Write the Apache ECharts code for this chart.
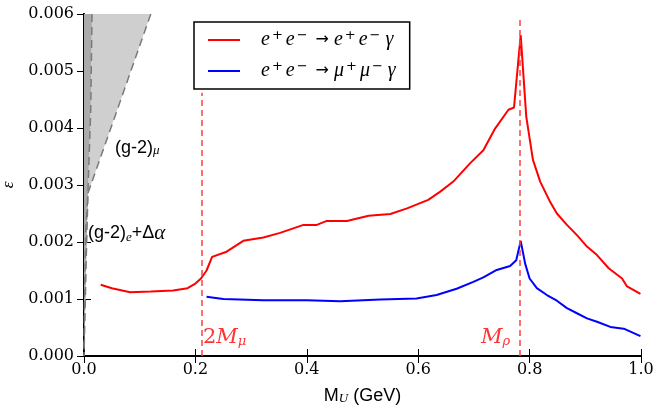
<!DOCTYPE html>
<html>
<head>
<meta charset="utf-8">
<script src="https://cdn.jsdelivr.net/npm/echarts@6/dist/echarts.min.js"></script>
<style>
    html, body { margin: 0; padding: 0; background: #fff; }
    #chart { width: 657px; height: 409px; }
</style>
</head>
<body>
<div id="chart"></div>
<script>
// e+e- -> e+e- gamma  [M_U, epsilon]
var eeGamma = [
    [0.03, 0.00125], [0.05, 0.00119], [0.083, 0.00112], [0.12, 0.00113], [0.16, 0.00115],
    [0.186, 0.00119], [0.2, 0.00127], [0.21, 0.00136], [0.22, 0.0015], [0.23, 0.00174],
    [0.256, 0.00183], [0.286, 0.00202], [0.322, 0.00208], [0.352, 0.00216], [0.394, 0.0023],
    [0.418, 0.0023], [0.436, 0.00237], [0.472, 0.00237], [0.511, 0.00246], [0.55, 0.00249],
    [0.58, 0.00259], [0.618, 0.00274], [0.639, 0.00288], [0.663, 0.00306], [0.693, 0.00338],
    [0.717, 0.00361], [0.738, 0.00399], [0.762, 0.00432], [0.772, 0.00436], [0.784, 0.00563],
    [0.794, 0.0042], [0.806, 0.00344], [0.819, 0.00306], [0.837, 0.0027], [0.849, 0.0025],
    [0.867, 0.0023], [0.885, 0.00212], [0.903, 0.00192], [0.921, 0.00177], [0.942, 0.00154],
    [0.966, 0.00136], [0.975, 0.00122], [0.999, 0.00109]
];
// e+e- -> mu+mu- gamma
var mumuGamma = [
    [0.22, 0.00104], [0.25, 0.001], [0.322, 0.00098], [0.4, 0.00098], [0.46, 0.00096],
    [0.532, 0.00099], [0.597, 0.00101], [0.633, 0.00107], [0.669, 0.00118], [0.699, 0.0013],
    [0.717, 0.00138], [0.741, 0.00151], [0.765, 0.00158], [0.776, 0.00168], [0.784, 0.00202],
    [0.792, 0.00162], [0.8, 0.00136], [0.813, 0.00119], [0.831, 0.00107], [0.849, 0.00097],
    [0.867, 0.00084], [0.885, 0.00075], [0.903, 0.00066], [0.921, 0.0006], [0.945, 0.00051],
    [0.969, 0.00048], [0.999, 0.00035]
];
// excluded bands (dashed boundaries)
var g2eEdge = [[0.0144, 0.006], [0.012, 0.0043], [0.0075, 0.003], [0.004, 0.0017], [0.002, 0.0008], [0, 0]];
var g2muEdge = [[0.12, 0.006], [0.0468, 0.00396], [0.0072, 0.00286], [0.003, 0.0022], [0.001, 0.001], [0, 0]];
var axisCorner = [[0, 0], [0, 0.006]];

// threshold lines [M, top]
var muThreshold = [0.211, 0.00462];
var rhoMass = [0.782, 0.0059];

var serif = '"DejaVu Serif", serif';
var sans = '"Liberation Sans", Arial, sans-serif';
var mathFont = '"Liberation Serif", "DejaVu Serif", serif';
var labelRed = '#f33';

var chart = echarts.init(document.getElementById('chart'));

function polygonSeries(pts, color) {
    return {
        type: 'custom',
        silent: true,
        z: 1,
        data: [0],
        renderItem: function (params, api) {
            return {
                type: 'polygon',
                shape: { points: pts.map(function (p) { return api.coord(p); }) },
                style: { fill: color }
            };
        }
    };
}

function markLineFor(m) {
    return {
        silent: true,
        symbol: 'none',
        label: { show: false },
        emphasis: { disabled: true },
        lineStyle: { color: '#ff4040', width: 1.5, type: [6, 4], opacity: 1 },
        data: [[{ coord: [m[0], 0] }, { coord: [m[0], m[1]] }]]
    };
}

var rich = {
    i: { fontFamily: mathFont, fontStyle: 'italic', fontSize: 20, color: '#000' },
    g: { fontFamily: mathFont, fontStyle: 'italic', fontSize: 20, color: '#000', padding: [0, 0, 0, 2] },
    a: { fontFamily: '"DejaVu Sans", sans-serif', fontSize: 16, color: '#000', padding: [0, 5, 0, 5] },
    s: { fontFamily: '"DejaVu Sans", sans-serif', fontSize: 13, color: '#000', verticalAlign: 'top', padding: [0, 3, 0, 2] }
};

var lightBand = g2eEdge.concat(g2muEdge.slice().reverse());
var darkBand = axisCorner.concat(g2eEdge);

var axisCommon = {
    axisLine: { lineStyle: { color: '#000', width: 2 } },
    axisTick: { inside: true, length: 7, lineStyle: { color: '#000', width: 1 } },
    splitLine: { show: false }
};

var option = {
    animation: false,
    grid: { left: 84, right: 16, top: 14, bottom: 53, containLabel: false, outerBoundsMode: 'none' },
    legend: {
        orient: 'vertical',
        left: 194,
        top: 22,
        padding: [7, 14, 7, 14],
        itemGap: 9,
        itemWidth: 32,
        itemHeight: 2,
        icon: 'rect',
        backgroundColor: '#fff',
        borderColor: '#000',
        borderWidth: 1.5,
        borderRadius: 0,
        data: ['ee', 'mumu'],
        formatter: function (name) {
            if (name === 'ee') return '{i|e}{s|+}{i|e}{s|\u2212}{a|\u2192}{i|e}{s|+}{i|e}{s|\u2212}{g|\u03b3}';
            return '{i|e}{s|+}{i|e}{s|\u2212}{a|\u2192}{i|\u03bc}{s|+}{i|\u03bc}{s|\u2212}{g|\u03b3}';
        },
        textStyle: { rich: rich, padding: [0, 0, 0, 16], lineHeight: 22 }
    },
    xAxis: [Object.assign({
        type: 'value', min: 0, max: 1, interval: 0.2,
        name: '{a|M}{b|U}{a| (GeV)}',
        nameLocation: 'middle', nameGap: 31,
        nameTextStyle: {
            rich: {
                a: { fontFamily: sans, fontSize: 18, color: '#000' },
                b: { fontFamily: mathFont, fontStyle: 'italic', fontSize: 13, color: '#000', verticalAlign: 'bottom' }
            }
        },
        axisLabel: { fontFamily: serif, fontSize: 16, color: '#000', margin: 6,
            formatter: function (v) { return v.toFixed(1); } }
    }, axisCommon), Object.assign({
        type: 'value', min: 0, max: 1, interval: 0.2, position: 'top',
        axisLabel: { show: false }
    }, axisCommon)],
    yAxis: [Object.assign({
        type: 'value', min: 0, max: 0.006, interval: 0.001,
        name: '\u03b5', nameLocation: 'middle', nameGap: 66,
        nameTextStyle: { fontFamily: mathFont, fontStyle: 'italic', fontSize: 17, color: '#000' },
        axisLabel: { fontFamily: serif, fontSize: 16, color: '#000', margin: 10,
            formatter: function (v) { return v.toFixed(3); } }
    }, axisCommon), Object.assign({
        type: 'value', min: 0, max: 0.006, interval: 0.001, position: 'right',
        axisLabel: { show: false }
    }, axisCommon)],
    series: [
        polygonSeries(lightBand, '#cfcfcf'),
        polygonSeries(darkBand, '#ababab'),
        {
            type: 'line', data: g2eEdge, showSymbol: false, silent: true, z: 2,
            lineStyle: { color: '#7a7a7a', width: 1.5, type: [8, 5] }
        },
        {
            type: 'line', data: g2muEdge, showSymbol: false, silent: true, z: 2,
            lineStyle: { color: '#7a7a7a', width: 1.5, type: [8, 5] }
        },
        {
            name: 'ee', type: 'line', data: eeGamma, showSymbol: false, z: 3,
            color: '#ff0000',
            lineStyle: { color: '#ff0000', width: 2 },
            markLine: markLineFor(muThreshold)
        },
        {
            name: 'mumu', type: 'line', data: mumuGamma, showSymbol: false, z: 3,
            color: '#0000ff',
            lineStyle: { color: '#0000ff', width: 2 },
            markLine: markLineFor(rhoMass)
        }
    ],
    graphic: [
        {
            type: 'text', left: 115, top: 139, z: 10,
            style: {
                text: '{a|(g-2)}{m|\u03bc}',
                rich: {
                    a: { fontFamily: sans, fontSize: 18, fill: '#000' },
                    m: { fontFamily: mathFont, fontStyle: 'italic', fontSize: 13, fill: '#000', verticalAlign: 'bottom' }
                }
            }
        },
        {
            type: 'text', left: 88, top: 223, z: 10,
            style: {
                text: '{a|(g-2)}{m|e}{a|+\u0394}{i|\u03b1}',
                rich: {
                    a: { fontFamily: sans, fontSize: 18, fill: '#000' },
                    i: { fontFamily: mathFont, fontStyle: 'italic', fontSize: 21, fill: '#000' },
                    m: { fontFamily: mathFont, fontStyle: 'italic', fontSize: 13, fill: '#000', verticalAlign: 'bottom' }
                }
            }
        },
        {
            type: 'text', left: 203, top: 327, z: 10,
            style: {
                text: '{a|2}{i|M}{m|\u03bc}',
                rich: {
                    a: { fontFamily: serif, fontSize: 21, fill: labelRed },
                    i: { fontFamily: serif, fontStyle: 'italic', fontSize: 21, fill: labelRed },
                    m: { fontFamily: serif, fontStyle: 'italic', fontSize: 13, fill: labelRed, verticalAlign: 'bottom' }
                }
            }
        },
        {
            type: 'text', left: 481, top: 327, z: 10,
            style: {
                text: '{i|M}{m|\u03c1}',
                rich: {
                    i: { fontFamily: serif, fontStyle: 'italic', fontSize: 21, fill: labelRed },
                    m: { fontFamily: serif, fontStyle: 'italic', fontSize: 13, fill: labelRed, verticalAlign: 'bottom' }
                }
            }
        }
    ]
};

chart.setOption(option);
</script>
</body>
</html>
